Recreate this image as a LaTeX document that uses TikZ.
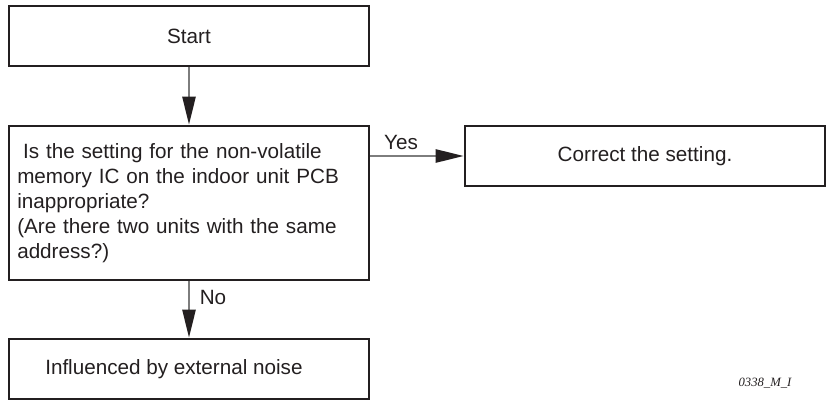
\documentclass[tikz,border=0pt]{standalone}
\usepackage{fontspec}
\setmainfont{Liberation Sans}
\newfontfamily\tagfont{Liberation Serif}
\usetikzlibrary{arrows.meta,positioning}
\definecolor{cInk}{RGB}{35,31,32}
\definecolor{cFlow}{RGB}{125,125,125}

\begin{document}
\begin{tikzpicture}[
    x=0.75pt, y=-0.75pt,
    stepbox/.style={rectangle,draw=cInk,line width=2.2pt,minimum width=270pt,minimum height=45pt,
      text=cInk,font=\fontsize{15.5pt}{18.75pt}\selectfont},
    flow/.style={-{Triangle[length=21pt,width=10pt,color=cInk]},cFlow,line width=1.3pt},
    tag/.style={text=cInk,font=\fontsize{15.5pt}{18.75pt}\selectfont,inner sep=0pt}
  ]
  \useasboundingbox (0,0) rectangle (827,403);
  % Boxes
  \node[stepbox] (start) at (189,36) {Start};
  \node[stepbox,minimum height=115.5pt] (check) at (189,203) {};
  \node[tag,anchor=west,text width=260pt,align=left] (question) at (17,203)
    {\hspace{0.28em}Is the setting for the non-volatile\\
     memory IC on the indoor unit PCB\\
     inappropriate?\\
     (Are there two units with the same\\
     address?)};
  \node[stepbox] (fix) at (645,156) {Correct the setting.};
  \node[stepbox] (noise) at (189,369) {};
  \node[tag,anchor=west] (noisetext) at (45,369) {Influenced by external noise};
  % Connectors
  \draw[flow] (start) -- (check);
  \draw[flow] (check.east |- fix.west) -- (fix.west);
  \draw[flow] (check) -- (noise);
  % Labels
  \node[tag] (yes) at (401,142) {Yes};
  \node[tag] (no) at (213,297) {No};
  \node[text=cInk,font=\tagfont\itshape\fontsize{9.5pt}{11pt}\selectfont,inner sep=0pt] (code) at (765,383) {0338\_M\_I};
\end{tikzpicture}
\end{document}
